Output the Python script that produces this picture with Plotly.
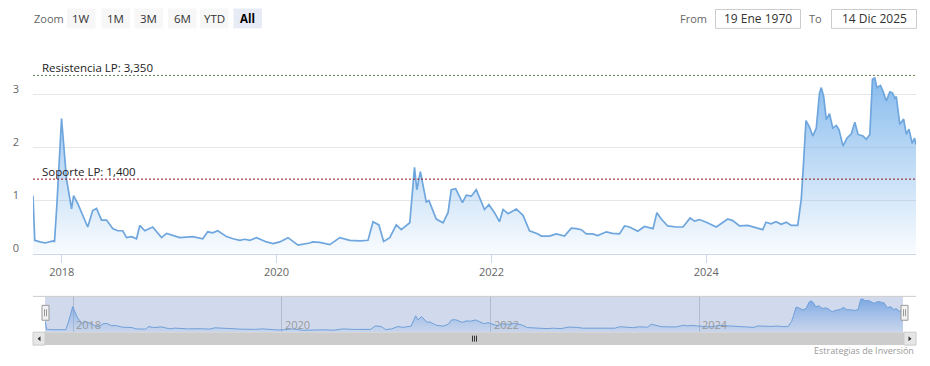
import plotly.graph_objects as go

# ---------------- data ----------------
dates = [
    "2017-09-25", "2017-10-01", "2017-10-19", "2017-11-05", "2017-11-20", "2017-12-02", "2017-12-07",
    "2017-12-15", "2017-12-31", "2018-01-17", "2018-02-03", "2018-02-10", "2018-02-25", "2018-03-14",
    "2018-03-30", "2018-04-16", "2018-04-29", "2018-05-16", "2018-06-02", "2018-06-23", "2018-07-10",
    "2018-07-27", "2018-08-09", "2018-08-26", "2018-09-12", "2018-09-23", "2018-10-10", "2018-11-06",
    "2018-12-06", "2018-12-23", "2019-02-06", "2019-03-22", "2019-04-25", "2019-05-12", "2019-05-29",
    "2019-06-15", "2019-07-15", "2019-08-06", "2019-08-29", "2019-09-15", "2019-10-02", "2019-10-25",
    "2019-11-28", "2019-12-20", "2020-01-12", "2020-02-09", "2020-03-14", "2020-04-23", "2020-05-03",
    "2020-05-27", "2020-06-30", "2020-08-03", "2020-09-06", "2020-10-10", "2020-11-07", "2020-11-24",
    "2020-12-14", "2020-12-30", "2021-01-20", "2021-02-11", "2021-02-28", "2021-03-29", "2021-04-14",
    "2021-04-22", "2021-05-04", "2021-05-24", "2021-06-02", "2021-06-27", "2021-07-20", "2021-08-06",
    "2021-08-17", "2021-09-01", "2021-09-24", "2021-10-07", "2021-10-24", "2021-11-10", "2021-12-08",
    "2021-12-23", "2022-01-11", "2022-01-28", "2022-02-09", "2022-02-26", "2022-03-26", "2022-04-18",
    "2022-05-10", "2022-06-08", "2022-06-19", "2022-07-17", "2022-08-09", "2022-09-06", "2022-09-29",
    "2022-10-16", "2022-11-02", "2022-11-19", "2022-12-11", "2022-12-28", "2023-01-26", "2023-02-16",
    "2023-03-12", "2023-03-29", "2023-04-15", "2023-05-13", "2023-06-05", "2023-07-04", "2023-07-17",
    "2023-08-01", "2023-08-23", "2023-09-21", "2023-10-14", "2023-11-07", "2023-11-22", "2023-12-09",
    "2024-01-01", "2024-02-04", "2024-03-14", "2024-03-31", "2024-04-23", "2024-05-21", "2024-06-13",
    "2024-07-11", "2024-07-22", "2024-08-08", "2024-08-25", "2024-09-12", "2024-09-29", "2024-10-16",
    "2024-11-07", "2024-11-19", "2024-11-26", "2024-12-05", "2024-12-17", "2024-12-28", "2025-01-09",
    "2025-01-20", "2025-01-26", "2025-02-03", "2025-02-12", "2025-02-23", "2025-03-06", "2025-03-18",
    "2025-03-27", "2025-04-10", "2025-04-23", "2025-05-08", "2025-05-20", "2025-05-31", "2025-06-17",
    "2025-06-28", "2025-07-10", "2025-07-19", "2025-07-27", "2025-08-03", "2025-08-15", "2025-08-24",
    "2025-09-04", "2025-09-16", "2025-09-25", "2025-10-03", "2025-10-08", "2025-10-20", "2025-11-02",
    "2025-11-11", "2025-11-20", "2025-12-01", "2025-12-09", "2025-12-14",
]
values = [
    1.09, 0.25, 0.22, 0.20, 0.22, 0.24, 0.22,
    0.90, 2.54, 1.40, 0.84, 1.09, 0.93, 0.69,
    0.50, 0.81, 0.85, 0.63, 0.63, 0.47, 0.43,
    0.43, 0.30, 0.32, 0.28, 0.53, 0.43, 0.50,
    0.30, 0.38, 0.30, 0.32, 0.28, 0.41, 0.39,
    0.43, 0.32, 0.28, 0.25, 0.27, 0.25, 0.30,
    0.22, 0.19, 0.22, 0.30, 0.16, 0.20, 0.22,
    0.21, 0.17, 0.30, 0.25, 0.24, 0.25, 0.60,
    0.54, 0.23, 0.30, 0.54, 0.45, 0.58, 1.62,
    1.20, 1.54, 0.97, 1.00, 0.65, 0.58, 0.77,
    1.20, 1.22, 0.96, 1.10, 1.08, 1.20, 0.83,
    0.92, 0.77, 0.60, 0.83, 0.75, 0.84, 0.72,
    0.43, 0.37, 0.33, 0.33, 0.37, 0.33, 0.48,
    0.47, 0.45, 0.37, 0.37, 0.34, 0.41, 0.38,
    0.37, 0.52, 0.50, 0.42, 0.51, 0.47, 0.77,
    0.65, 0.52, 0.50, 0.50, 0.67, 0.61, 0.64,
    0.59, 0.50, 0.65, 0.62, 0.52, 0.53, 0.50,
    0.45, 0.59, 0.56, 0.60, 0.55, 0.59, 0.53,
    0.53, 1.03, 1.65, 2.50, 2.38, 2.21, 2.36,
    3.02, 3.12, 2.96, 2.52, 2.63, 2.36, 2.41,
    2.33, 2.02, 2.17, 2.25, 2.47, 2.24, 2.21,
    2.15, 2.24, 3.28, 3.30, 3.12, 3.16, 3.05,
    2.87, 3.04, 3.02, 2.92, 2.95, 2.43, 2.53,
    2.24, 2.34, 2.07, 2.17, 2.05,
]

resistance = 3.35
support = 1.40
resistance_label = "Resistencia LP: 3,350"
support_label = "Soporte LP: 1,400"

x_start = "2017-09-25"
x_end = "2025-12-14"
year_ticks = ["2018-01-01", "2020-01-01", "2022-01-01", "2024-01-01"]
year_labels = ["2018", "2020", "2022", "2024"]
y_ticks = [0, 1, 2, 3, 4]
y_tick_labels = ["0", "1", "2", "3", ""]

zoom_label = "Zoom"
zoom_buttons = ["1W", "1M", "3M", "6M", "YTD", "All"]
selected_button = "All"
from_label = "From"
to_label = "To"
from_date = "19 Ene 1970"
to_date = "14 Dic 2025"
credits = "Estrategias de Inversión"

# ---------------- geometry helpers (layout only) ----------------
# the page body has an 8px margin, so the figure is drawn from (8, 8)
OX, OY = 8, 8
W, H = 922, 358


def px(x):
    return (x - OX) / W


def py(y):
    return 1 - (y - OY) / H


FONT = "Open Sans, DejaVu Sans, sans-serif"
LINE_COLOR = "#6ea6dd"

fig = go.Figure()

fig.add_trace(go.Scatter(
    x=dates, y=values, mode="lines",
    line=dict(color=LINE_COLOR, width=1.7),
    fill="tozeroy",
    fillgradient=dict(type="vertical", start=0, stop=3.3,
                      colorscale=[[0, "rgba(124,181,236,0.04)"],
                                  [1, "rgba(124,181,236,0.90)"]]),
    xaxis="x", yaxis="y", hoverinfo="skip",
))

fig.add_trace(go.Scatter(
    x=dates, y=values, mode="lines",
    line=dict(color="#6f9fd8", width=1),
    fill="tozeroy",
    fillgradient=dict(type="vertical", start=0, stop=3.3,
                      colorscale=[[0, "rgba(124,170,230,0.10)"],
                                  [1, "rgba(110,160,225,0.85)"]]),
    xaxis="x2", yaxis="y2", hoverinfo="skip",
))

shapes = []
annotations = []

# plot lines (resistance / support)
shapes.append(dict(type="line", xref="x domain", yref="y", x0=0, x1=1,
                   y0=resistance, y1=resistance,
                   line=dict(color="#5f7f4f", width=1, dash="2px,2px"), layer="above"))
shapes.append(dict(type="line", xref="x domain", yref="y", x0=0, x1=1,
                   y0=support, y1=support,
                   line=dict(color="#8b1a1a", width=1, dash="2px,2px"), layer="above"))
annotations.append(dict(text=resistance_label, xref="paper", yref="y",
                        x=px(40), y=resistance, xanchor="left", yanchor="bottom",
                        showarrow=False, yshift=-2,
                        font=dict(family=FONT, size=11.5, color="#222")))
annotations.append(dict(text=support_label, xref="paper", yref="y",
                        x=px(40), y=support, xanchor="left", yanchor="bottom",
                        showarrow=False, yshift=-2,
                        font=dict(family=FONT, size=11.5, color="#222")))

# ---------------- toolbar ----------------
annotations.append(dict(text=zoom_label, xref="paper", yref="paper",
                        x=px(32), y=py(18.5), xanchor="left", yanchor="middle",
                        showarrow=False, font=dict(family=FONT, size=11, color="#666")))
btn_left = [67, 101.5, 134.5, 168, 200, 233.5]
for i, b in enumerate(zoom_buttons):
    x0 = btn_left[i]
    sel = b == selected_button
    shapes.append(dict(type="rect", xref="paper", yref="paper",
                       x0=px(x0), x1=px(x0 + 28.5), y0=py(28.5), y1=py(8.5),
                       fillcolor="#e6ebf5" if sel else "#f7f7f7",
                       line=dict(width=0), layer="above"))
    annotations.append(dict(text=("<b>%s</b>" % b) if sel else b, xref="paper", yref="paper",
                            x=px(x0 + 14.25), y=py(18.5), xanchor="center", yanchor="middle",
                            showarrow=False,
                            font=dict(family=FONT, size=11.5, color="#000" if sel else "#333")))

annotations.append(dict(text=from_label, xref="paper", yref="paper",
                        x=px(708.5), y=py(18.5), xanchor="right", yanchor="middle",
                        showarrow=False, font=dict(family=FONT, size=11, color="#666")))
annotations.append(dict(text=to_label, xref="paper", yref="paper",
                        x=px(823.5), y=py(18.5), xanchor="right", yanchor="middle",
                        showarrow=False, font=dict(family=FONT, size=11, color="#666")))
for (x0, x1, t) in [(715.5, 800.5, from_date), (831.5, 916.5, to_date)]:
    shapes.append(dict(type="rect", xref="paper", yref="paper",
                       x0=px(x0), x1=px(x1), y0=py(28.5), y1=py(9.5),
                       fillcolor="white", line=dict(color="#cccccc", width=1), layer="above"))
    annotations.append(dict(text=t, xref="paper", yref="paper",
                            x=px((x0 + x1) / 2), y=py(18.5), xanchor="center", yanchor="middle",
                            showarrow=False, font=dict(family=FONT, size=12, color="#333")))

# ---------------- navigator ----------------
shapes.append(dict(type="rect", xref="x2", yref="y2 domain", x0=x_start, x1=x_end,
                   y0=0, y1=1, fillcolor="rgba(102,133,194,0.30)", line=dict(width=0),
                   layer="below"))
shapes.append(dict(type="line", xref="paper", yref="paper", x0=px(33), x1=px(916),
                   y0=py(298), y1=py(298), line=dict(color="#cccccc", width=1), layer="above"))
for i, t in enumerate(year_ticks):
    annotations.append(dict(text=year_labels[i], xref="x2", yref="paper",
                            x=t, y=py(326), xanchor="left", yanchor="middle", xshift=1,
                            showarrow=False, font=dict(family=FONT, size=11, color="#999")))

# scrollbar
shapes.append(dict(type="rect", xref="paper", yref="paper", x0=px(33), x1=px(916),
                   y0=py(347), y1=py(334), fillcolor="#f2f2f2", line=dict(width=0), layer="above"))
shapes.append(dict(type="rect", xref="paper", yref="paper", x0=px(45), x1=px(904),
                   y0=py(347), y1=py(334), fillcolor="#cccccc", line=dict(width=0), layer="above"))
for (a, b) in [(33, 45), (904, 916)]:
    shapes.append(dict(type="rect", xref="paper", yref="paper", x0=px(a), x1=px(b),
                       y0=py(347), y1=py(334), fillcolor="#e6e6e6",
                       line=dict(color="#cccccc", width=1), layer="above"))
shapes.append(dict(type="path", xref="paper", yref="paper",
                   path="M %f %f L %f %f L %f %f Z" % (px(40.5), py(338), px(37.5), py(340.5), px(40.5), py(343)),
                   fillcolor="#333", line=dict(width=0), layer="above"))
shapes.append(dict(type="path", xref="paper", yref="paper",
                   path="M %f %f L %f %f L %f %f Z" % (px(908.5), py(338), px(911.5), py(340.5), px(908.5), py(343)),
                   fillcolor="#333", line=dict(width=0), layer="above"))
for gx in [472.5, 474.5, 476.5]:
    shapes.append(dict(type="line", xref="paper", yref="paper", x0=px(gx), x1=px(gx),
                       y0=py(337.5), y1=py(343.5), line=dict(color="#333", width=1), layer="above"))
for hx in [42, 901]:
    shapes.append(dict(type="rect", xref="paper", yref="paper", x0=px(hx), x1=px(hx + 7),
                       y0=py(322), y1=py(307), fillcolor="#f2f2f2",
                       line=dict(color="#999999", width=1), layer="above"))
    for lx in [hx + 2.5, hx + 4.5]:
        shapes.append(dict(type="line", xref="paper", yref="paper", x0=px(lx), x1=px(lx),
                           y0=py(311), y1=py(318), line=dict(color="#999999", width=1), layer="above"))

annotations.append(dict(text=credits, xref="paper", yref="paper",
                        x=px(916), y=py(352), xanchor="right", yanchor="middle",
                        showarrow=False, font=dict(family=FONT, size=9, color="#999")))

fig.update_layout(
    width=W, height=H,
    margin=dict(l=0, r=0, t=0, b=0),
    paper_bgcolor="white", plot_bgcolor="rgba(0,0,0,0)",
    showlegend=False, hovermode=False,
    font=dict(family=FONT, size=11, color="#666"),
    xaxis=dict(domain=[px(33), px(916)], range=[x_start, x_end], type="date",
               tickvals=year_ticks, ticktext=year_labels,
               ticks="outside", ticklen=8, tickcolor="#ccd6eb",
               showline=True, linecolor="#ccd6eb", linewidth=1,
               showgrid=False, zeroline=False, anchor="y",
               tickfont=dict(family=FONT, size=11, color="#666")),
    yaxis=dict(domain=[py(255), py(41)], range=[0, 4],
               tickvals=y_ticks, ticktext=y_tick_labels,
               showgrid=True, gridcolor="#e6e6e6", gridwidth=1,
               zeroline=False, showline=False, ticks="", anchor="x",
               ticklabelstandoff=13, ticklabelshift=-5,
               tickfont=dict(family=FONT, size=11, color="#666")),
    xaxis2=dict(domain=[px(45), px(903)], range=[x_start, x_end], type="date",
                tickvals=year_ticks, showticklabels=False,
                showgrid=True, gridcolor="rgba(120,130,150,0.35)", gridwidth=1,
                zeroline=False, showline=False, ticks="", anchor="y2"),
    yaxis2=dict(domain=[py(334), py(298)], range=[-0.03, 3.57],
                showgrid=False, zeroline=False, showline=False,
                showticklabels=False, ticks="", anchor="x2"),
    shapes=shapes, annotations=annotations,
)

fig.write_html("out.html")
